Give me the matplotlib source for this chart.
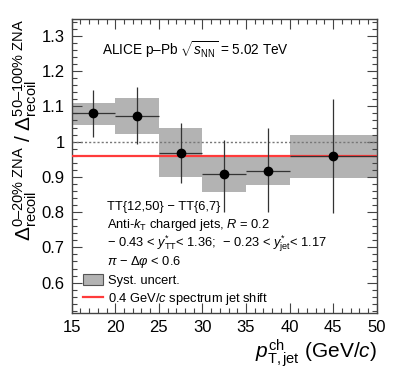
import numpy as np
import matplotlib
matplotlib.use("Agg")
import matplotlib.pyplot as plt
from matplotlib.patches import Rectangle, Patch
from matplotlib.lines import Line2D
from matplotlib.ticker import MultipleLocator

plt.rcParams['font.family'] = ['Liberation Sans', 'DejaVu Sans']
plt.rcParams['mathtext.fontset'] = 'custom'
plt.rcParams['mathtext.rm'] = 'Liberation Sans'
plt.rcParams['mathtext.it'] = 'Liberation Sans:italic'
plt.rcParams['mathtext.bf'] = 'Liberation Sans:bold'

# bins in pT,jet (GeV/c)
bin_lo = np.array([15, 20, 25, 30, 35, 40])
bin_hi = np.array([20, 25, 30, 35, 40, 50])
ratio = np.array([1.080, 1.074, 0.967, 0.908, 0.918, 0.958])
stat_up = np.array([0.066, 0.080, 0.087, 0.097, 0.122, 0.163])
stat_dn = np.array([0.066, 0.081, 0.085, 0.108, 0.119, 0.161])
syst_lo = np.array([1.047, 1.022, 0.899, 0.856, 0.877, 0.896])
syst_hi = np.array([1.109, 1.125, 1.038, 0.962, 0.958, 1.019])
shift_level = 0.958

centers = 0.5 * (bin_lo + bin_hi)
half_w = 0.5 * (bin_hi - bin_lo)

fig = plt.figure(figsize=(3.99, 3.79), dpi=100)
ax = fig.add_axes([0.1797, 0.1733, 0.944 - 0.1797, 0.95 - 0.1733])

box_col = '#b3b3b3'
for lo, hi, ylo, yhi in zip(bin_lo, bin_hi, syst_lo, syst_hi):
    ax.add_patch(Rectangle((lo, ylo), hi - lo, yhi - ylo, facecolor=box_col,
                           edgecolor='none', zorder=1))

ax.plot([15, 50], [1.0, 1.0], ls=(0, (1.5, 1.5)), color='#777777', lw=1, zorder=2)
ax.plot([15, 50], [shift_level, shift_level], color='#ff3b3b', lw=1.6, zorder=3)

ax.errorbar(centers, ratio, yerr=[stat_dn, stat_up], xerr=half_w, fmt='o',
            color='black', ecolor='#333333', elinewidth=0.9, capsize=0,
            markersize=6, zorder=4)

ax.set_xlim(15, 50)
ax.set_ylim(0.513, 1.348)
ax.xaxis.set_major_locator(MultipleLocator(5))
ax.xaxis.set_minor_locator(MultipleLocator(1))
ax.yaxis.set_minor_locator(MultipleLocator(0.02))
ax.set_yticks([0.6, 0.7, 0.8, 0.9, 1.0, 1.1, 1.2, 1.3])
ax.set_yticklabels(['0.6', '0.7', '0.8', '0.9', '1', '1.1', '1.2', '1.3'])
ax.tick_params(which='both', direction='in', top=True, right=True, labelsize=12,
               color='#444444')
ax.tick_params(which='major', length=7, width=0.8, pad=5)
ax.tick_params(which='minor', length=3.5, width=0.8)
for sp in ax.spines.values():
    sp.set_color('#444444')
    sp.set_linewidth(1)

ax.set_xlabel(r'$p^{\mathrm{ch}}_{\mathrm{T,jet}}$ (GeV/$c$)', fontsize=15,
              loc='right', labelpad=1)
ax.set_ylabel(r'$\Delta^{\mathrm{0–20\%\ ZNA}}_{\mathrm{recoil}}\ /\ '
              r'\Delta^{\mathrm{50–100\%\ ZNA}}_{\mathrm{recoil}}$',
              fontsize=15, loc='top', labelpad=2)

ax.text(0.1, 0.895, r'ALICE p–Pb $\sqrt{s_{\mathrm{NN}}}$ = 5.02 TeV',
        transform=ax.transAxes, fontsize=9.8, va='center')

tx = 0.116
fs = 9.3
ax.text(tx, 0.361, 'TT{12,50} − TT{6,7}', transform=ax.transAxes, fontsize=fs,
        va='center')
ax.text(tx, 0.300, r'Anti-$k_{\mathrm{T}}$ charged jets, $R$ = 0.2',
        transform=ax.transAxes, fontsize=fs, va='center')
ax.text(tx, 0.238, r'− 0.43 < $y^{*}_{\mathrm{TT}}$< 1.36;  − 0.23 < $y^{*}_{\mathrm{jet}}$< 1.17',
        transform=ax.transAxes, fontsize=fs, va='center')
ax.text(tx, 0.176, r'$\pi$ − $\Delta\varphi$ < 0.6', transform=ax.transAxes,
        fontsize=fs, va='center')

handles = [Patch(facecolor=box_col, edgecolor='#555555', linewidth=0.8),
           Line2D([0], [0], color='#ff3b3b', lw=1.6)]
labels = ['Syst. uncert.', r'0.4 GeV/$c$ spectrum jet shift']
ax.legend(handles, labels, loc='lower left', bbox_to_anchor=(0.008, -0.01),
          frameon=False, fontsize=fs, handlelength=1.5, handleheight=0.93,
          handletextpad=0.4, labelspacing=0.3, borderaxespad=0.35,
          borderpad=0.35)

fig.savefig('out.png', dpi=100)
